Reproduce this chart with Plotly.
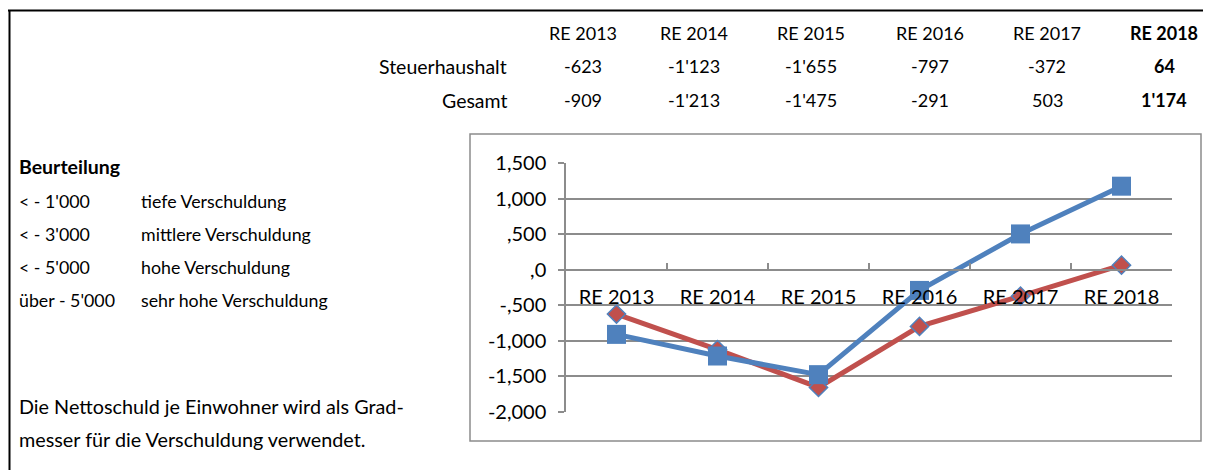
import plotly.graph_objects as go

# ---------------- data ----------------
categories = ["RE 2013", "RE 2014", "RE 2015", "RE 2016", "RE 2017", "RE 2018"]
steuerhaushalt = [-623, -1123, -1655, -797, -372, 64]
gesamt = [-909, -1213, -1475, -291, 503, 1174]
steuer_text = ["-623", "-1'123", "-1'655", "-797", "-372", "64"]
gesamt_text = ["-909", "-1'213", "-1'475", "-291", "503", "1'174"]
y_tickvals = [1500, 1000, 500, 0, -500, -1000, -1500, -2000]
y_ticktext = ["1,500", "1,000", ",500", ",0", "-,500", "-1,000", "-1,500", "-2,000"]
beurteilung_limits = ["< - 1'000", "< - 3'000", "< - 5'000", "über - 5'000"]
beurteilung_labels = ["tiefe Verschuldung", "mittlere Verschuldung", "hohe Verschuldung", "sehr hohe Verschuldung"]

# ---------------- layout geometry (page pixels) ----------------
PAGE_W, PAGE_H = 1211, 470
OFF = 8                              # default body margin of the html page
W, H = PAGE_W - OFF, PAGE_H - OFF    # figure size
L, R, T, B = 566, 1172, 163, 412     # plot area in page pixels
FONT = "Lato, 'Open Sans', sans-serif"
BLUE = "#4F81BD"
RED = "#C0504D"
GRID = "#8C8C8C"


def px(x):
    return (x - L) / (R - L)


def py(y):
    return (B - y) / (B - T)


fig = go.Figure()
fig.add_trace(go.Scatter(
    x=categories, y=steuerhaushalt, mode="lines+markers", name="Steuerhaushalt",
    line=dict(color=RED, width=5),
    marker=dict(symbol="diamond", size=14, color=RED, line=dict(color=BLUE, width=1.5)),
))
fig.add_trace(go.Scatter(
    x=categories, y=gesamt, mode="lines+markers", name="Gesamt",
    line=dict(color=BLUE, width=5),
    marker=dict(symbol="square", size=19, color=BLUE, line=dict(color=BLUE, width=0)),
))

zero_pos = (0 - y_tickvals[-1]) / (y_tickvals[0] - y_tickvals[-1])

fig.update_layout(
    width=W, height=H,
    margin=dict(l=L - OFF, r=PAGE_W - R, t=T - OFF, b=PAGE_H - B, pad=0),
    paper_bgcolor="white", plot_bgcolor="white",
    showlegend=False,
    font=dict(family=FONT, color="black"),
    xaxis=dict(
        type="category", range=[-0.5, len(categories) - 0.5],
        anchor="free", position=zero_pos,
        showline=True, linecolor=GRID, linewidth=1.5,
        ticks="inside", tickson="boundaries", ticklen=6, tickcolor=GRID, tickwidth=1.5,
        showgrid=False, tickfont=dict(size=20, family=FONT, color="black"),
        ticklabelstandoff=10,
    ),
    yaxis=dict(
        range=[y_tickvals[-1], y_tickvals[0]],
        tickvals=y_tickvals, ticktext=y_ticktext,
        showline=True, linecolor=GRID, linewidth=1.5,
        ticks="outside", ticklen=6, tickcolor=GRID, tickwidth=1.5,
        showgrid=True, gridcolor=GRID, gridwidth=1.5, zeroline=False,
        tickfont=dict(size=20, family=FONT, color="black"),
        ticklabelstandoff=8,
    ),
)

shapes = []
# outer frame (top and left lines)
shapes.append(dict(type="line", xref="paper", yref="paper",
                   x0=px(8), x1=px(PAGE_W + 5), y0=py(10.5), y1=py(10.5),
                   line=dict(color="black", width=2)))
shapes.append(dict(type="line", xref="paper", yref="paper",
                   x0=px(9.5), x1=px(9.5), y0=py(10), y1=py(PAGE_H + 5),
                   line=dict(color="black", width=2)))
# chart box
shapes.append(dict(type="rect", xref="paper", yref="paper",
                   x0=px(470), x1=px(1201), y0=py(134), y1=py(441),
                   line=dict(color=GRID, width=1.5), layer="below"))
fig.update_layout(shapes=shapes)

ann = []
TS = 18
col_x = [583, 694, 811, 930, 1047, 1164]
for i, c in enumerate(categories):
    bold = i == len(categories) - 1
    for yy, txt in ((33, c), (66, steuer_text[i]), (100, gesamt_text[i])):
        ann.append(dict(x=px(col_x[i]), y=py(yy), xref="paper", yref="paper",
                        text=f"<b>{txt}</b>" if bold else txt, showarrow=False,
                        xanchor="center", yanchor="middle",
                        font=dict(size=TS, family=FONT, color="black")))
for yy, txt in ((66, "Steuerhaushalt"), (100, "Gesamt")):
    ann.append(dict(x=px(509), y=py(yy), xref="paper", yref="paper", text=txt,
                    showarrow=False, xanchor="right", yanchor="middle",
                    font=dict(size=19.5, family=FONT, color="black")))

LS = 17.8
ann.append(dict(x=px(17), y=py(166), xref="paper", yref="paper", text="<b>Beurteilung</b>",
                showarrow=False, xanchor="left", yanchor="middle",
                font=dict(size=19.5, family=FONT, color="black")))
rows_y = [201, 234, 267, 300]
for yy, a, b in zip(rows_y, beurteilung_limits, beurteilung_labels):
    ann.append(dict(x=px(17), y=py(yy), xref="paper", yref="paper", text=a,
                    showarrow=False, xanchor="left", yanchor="middle",
                    font=dict(size=LS, family=FONT, color="black")))
    ann.append(dict(x=px(139), y=py(yy), xref="paper", yref="paper", text=b,
                    showarrow=False, xanchor="left", yanchor="middle",
                    font=dict(size=LS, family=FONT, color="black")))
for yy, txt in ((406, "Die Nettoschuld je Einwohner wird als Grad-"),
                (439, "messer für die Verschuldung verwendet.")):
    ann.append(dict(x=px(17), y=py(yy), xref="paper", yref="paper", text=txt,
                    showarrow=False, xanchor="left", yanchor="middle",
                    font=dict(size=19.8, family=FONT, color="black")))
fig.update_layout(annotations=ann)

fig.write_html("out.html")
